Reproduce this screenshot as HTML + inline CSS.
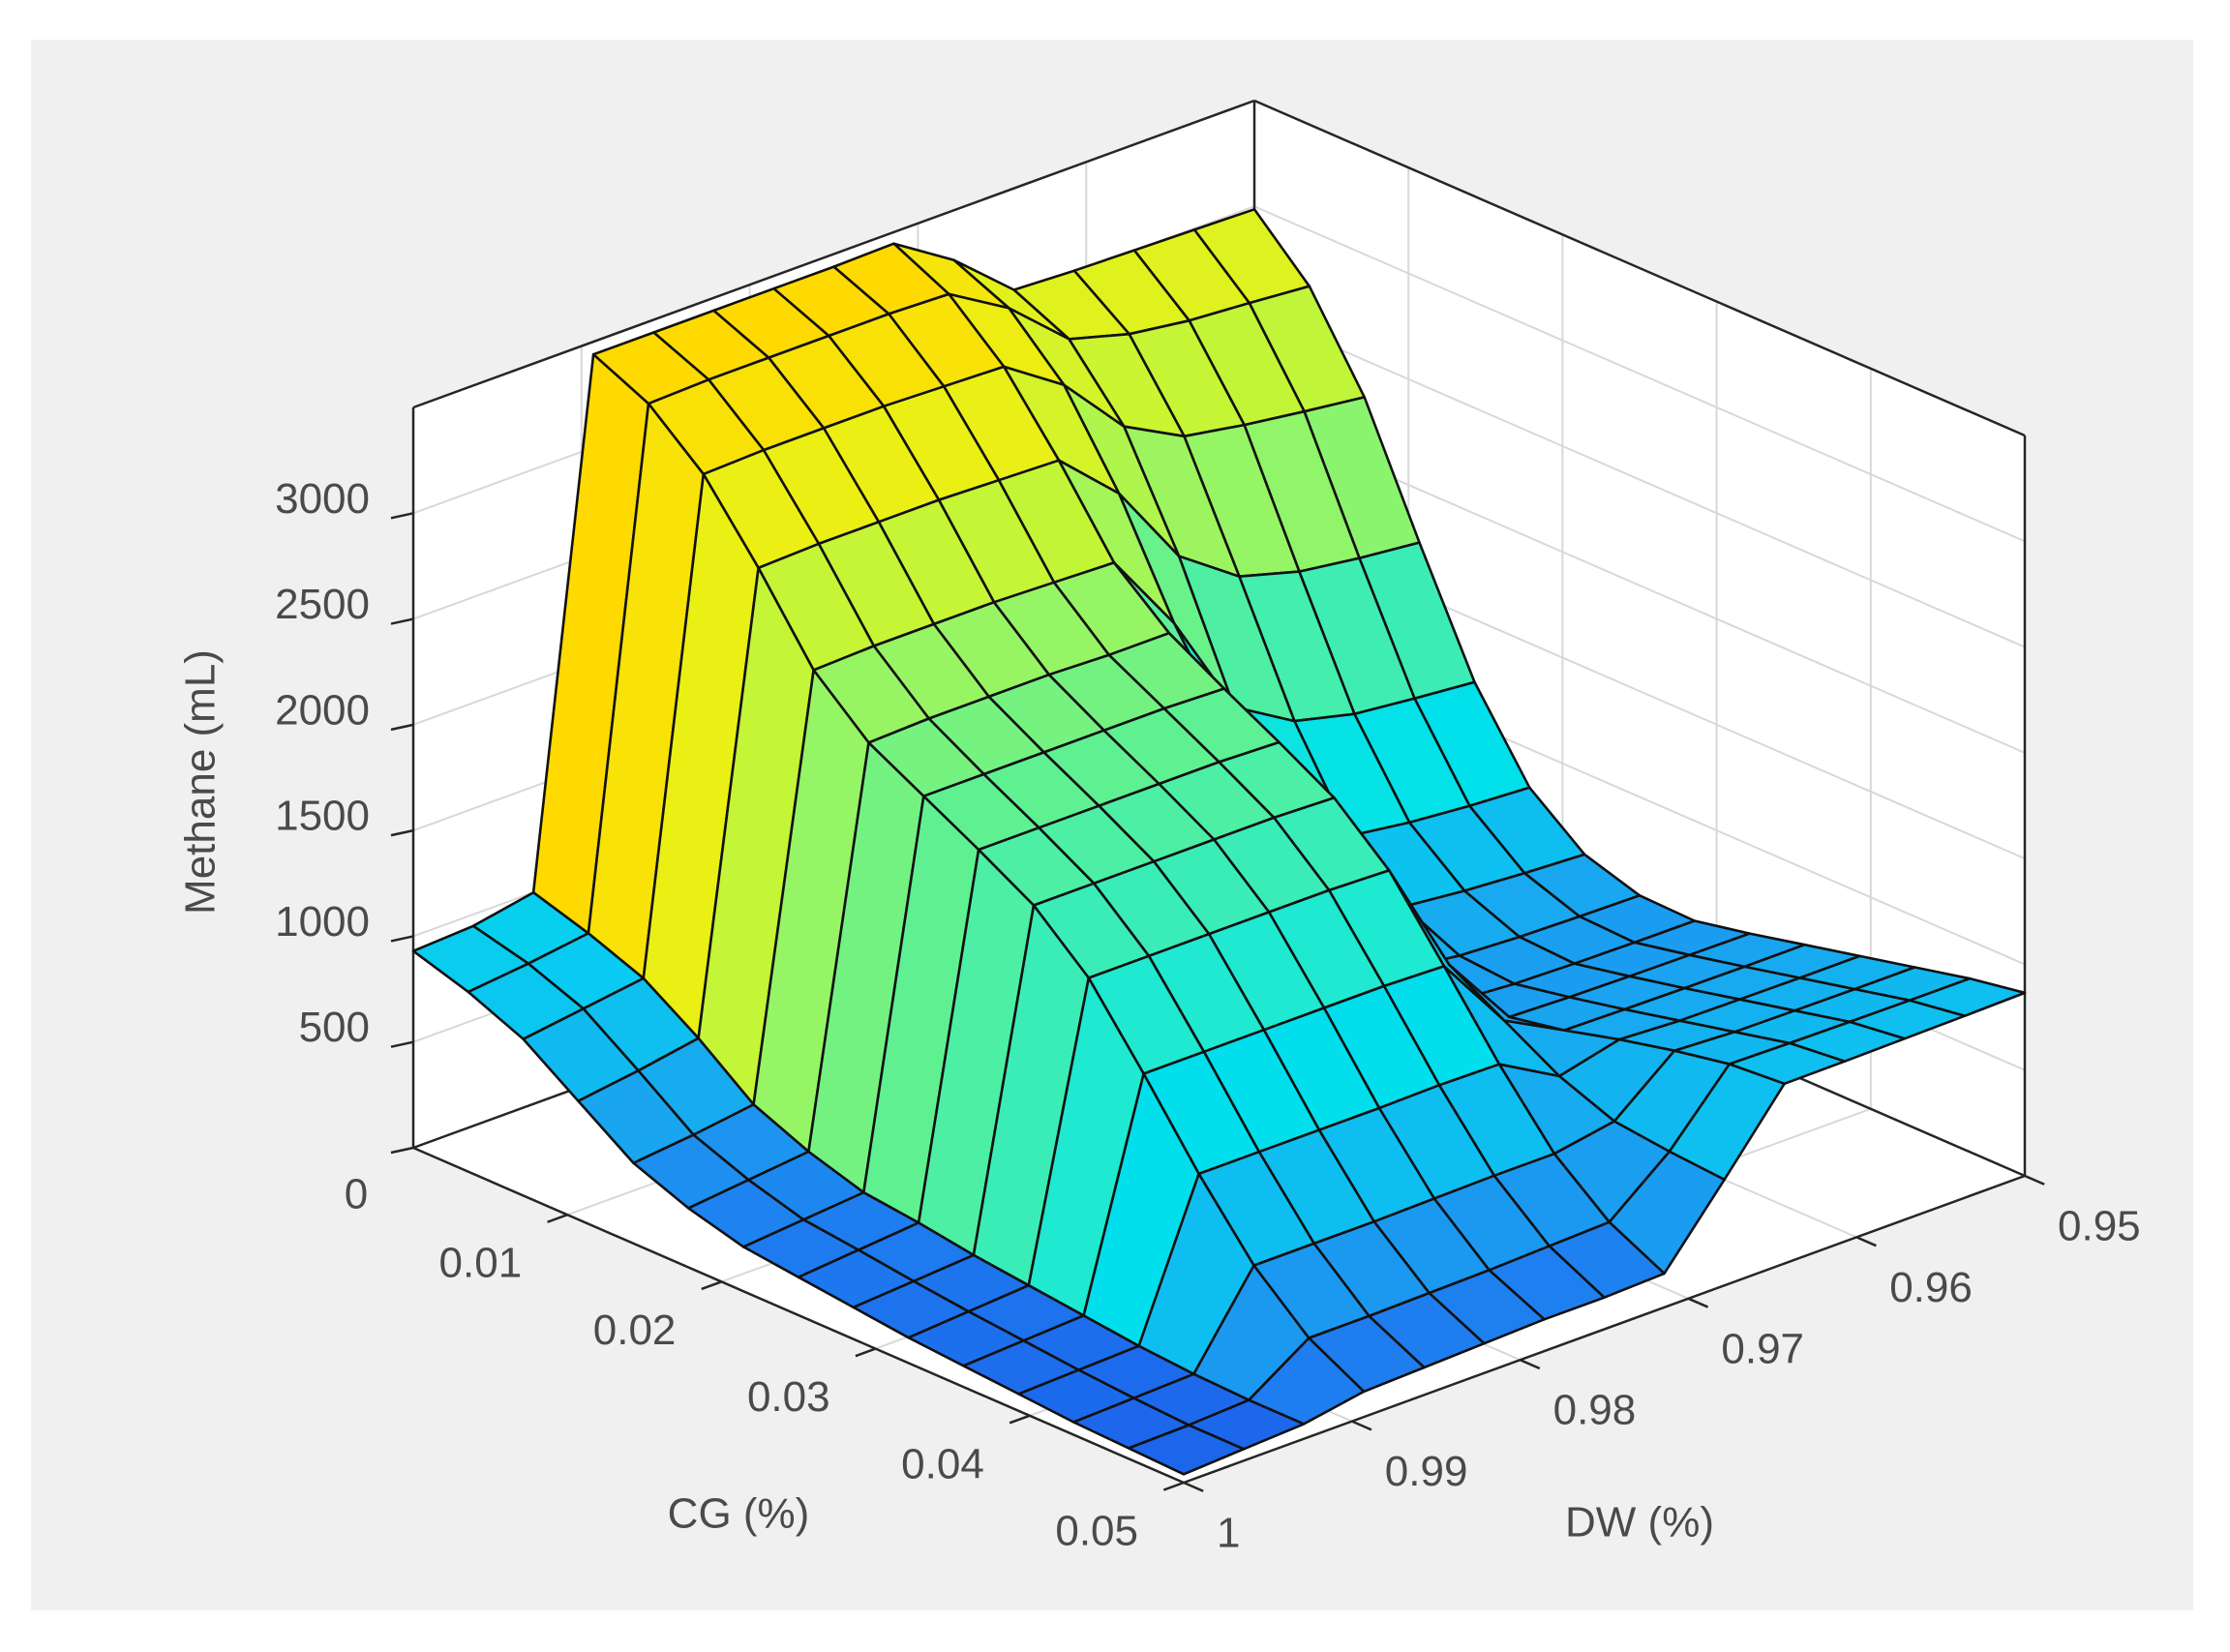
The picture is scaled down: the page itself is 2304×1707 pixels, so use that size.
<!DOCTYPE html>
<html><head><meta charset="utf-8"><style>
html,body{margin:0;padding:0;background:#fff;}
svg{display:block;}
text{font-family:"Liberation Sans",Arial,sans-serif;fill:#4a4a4a;font-size:44px;}
</style></head><body>
<svg id="chart" width="2304" height="1707" viewBox="0 0 2304 1707" xmlns="http://www.w3.org/2000/svg">
<rect x="0" y="0" width="2304" height="1707" fill="#ffffff"/>
<rect x="32" y="41" width="2234" height="1623" fill="#f0f0f0"/>
<g id="axes"></g>
<g id="surf"></g>
<g id="labels"></g>
</svg>
<script>
// ---- data ----
const cgValues = [0,0.00357,0.00714,0.01071,0.01429,0.01786,0.02143,0.025,0.02857,0.03214,0.03571,0.03929,0.04286,0.04643,0.05];
const dwValues = [1,0.99643,0.99286,0.98929,0.98571,0.98214,0.97857,0.975,0.97143,0.96786,0.96429,0.96071,0.95714,0.95357,0.95];
// methane rows, one per DW value (dw=1 first), values along CG
const zDw100 = [930,850,740,560,380,280,210,180,150,120,100,80,60,50,40];
const zDw0996 = [945,880,780,600,410,310,235,205,170,140,115,90,70,55,55];
const zDw0993 = [1000,920,820,650,450,340,260,230,190,160,130,100,80,70,70];
const zDw0989 = [3440,3320,3100,2770,2400,2170,2030,1890,1740,1510,1170,810,490,260,120];
const zDw0986 = [3440,3330,3110,2780,2410,2180,2030,1890,1740,1510,1170,810,490,260,130];
const zDw0982 = [3440,3330,3110,2780,2410,2180,2030,1890,1740,1510,1170,810,490,265,140];
const zDw0979 = [3440,3330,3110,2780,2410,2180,2030,1890,1740,1510,1170,810,495,270,150];
const zDw0975 = [3440,3330,3100,2770,2400,2170,2030,1890,1740,1510,1170,815,500,280,150];
const zDw0971 = [3446,3320,3090,2760,2390,2170,2020,1880,1730,1500,1160,810,500,290,160];
const zDw0968 = [3264,3150,2900,2500,2000,1600,1350,1200,1100,950,800,650,550,520,500];
const zDw0964 = [3020,2900,2600,2100,1500,1000,750,600,560,600,650,720,780,830,850];
const zDw0961 = [3007,2820,2450,1900,1330,900,680,560,540,590,645,705,765,825,852];
const zDw0957 = [3000,2780,2400,1820,1260,860,650,545,532,585,642,702,762,822,856];
const zDw0954 = [2993,2760,2360,1780,1230,835,630,538,528,582,640,700,760,820,860];
const zDw095 = [2986,2736,2324,1750,1203,818,615,534,527,580,640,700,760,820,865];
const zRows = [zDw100,zDw0996,zDw0993,zDw0989,zDw0986,zDw0982,zDw0979,zDw0975,zDw0971,zDw0968,zDw0964,zDw0961,zDw0957,zDw0954,zDw095];
const zTicks = [0,500,1000,1500,2000,2500,3000];
const zTickLabels = ["0","500","1000","1500","2000","2500","3000"];
const cgTicks = [0.01,0.02,0.03,0.04,0.05];
const cgTickLabels = ["0.01","0.02","0.03","0.04","0.05"];
const dwTicks = [0.95,0.96,0.97,0.98,0.99,1];
const dwTickLabels = ["0.95","0.96","0.97","0.98","0.99","1"];

// ---- projection ----
const L = [427,1186], F = [1223,1532], R = [2092,1215];
const B = [L[0]+R[0]-F[0], L[1]+R[1]-F[1]];
const ZMAX = 3500, ZPX = 765;
function proj(cg, dw, z){
  const s = cg/0.05, t = (1-dw)/0.05;
  return [L[0]+(F[0]-L[0])*s+(B[0]-L[0])*t, L[1]+(F[1]-L[1])*s+(B[1]-L[1])*t - z*ZPX/ZMAX];
}
const NS = "http://www.w3.org/2000/svg";
function mk(tag, attrs, parent){
  const e = document.createElementNS(NS, tag);
  for (const k in attrs) e.setAttribute(k, attrs[k]);
  parent.appendChild(e); return e;
}
const axes = document.getElementById('axes');
const surf = document.getElementById('surf');
const labels = document.getElementById('labels');
function pt(p){return p[0].toFixed(1)+','+p[1].toFixed(1);}

const Lt = proj(0,1,ZMAX), Bt = proj(0,0.95,ZMAX), Rt = proj(0.05,0.95,ZMAX);
let bg = mk('polygon',{points:[L,Lt,Bt,Rt,R,F].map(pt).join(' '),fill:'#ffffff'},axes);



function gline(a,b,name){
  const l = mk('line',{x1:a[0],y1:a[1],x2:b[0],y2:b[1],stroke:'#d8d8d8','stroke-width':2},axes);
  
  
}
zTicks.forEach(z=>{ if(z===0) return;
  gline(proj(0,1,z),proj(0,0.95,z),'z-gridline');
  gline(proj(0,0.95,z),proj(0.05,0.95,z),'z-gridline');
});
dwTicks.forEach(d=>{
  gline(proj(0,d,0),proj(0,d,ZMAX),'dw-gridline');
  gline(proj(0,d,0),proj(0.05,d,0),'dw-gridline');
});
cgTicks.forEach(c=>{
  gline(proj(c,0.95,0),proj(c,0.95,ZMAX),'cg-gridline');
  gline(proj(c,1,0),proj(c,0.95,0),'cg-gridline');
});
function bline(a,b,name){
  const l = mk('line',{x1:a[0],y1:a[1],x2:b[0],y2:b[1],stroke:'#262626','stroke-width':2.5},axes);
  
  
}
bline(L,Lt,'z-axis-line'); bline(Lt,Bt,'box-edge'); bline(Bt,Rt,'box-edge'); bline(Rt,R,'box-edge');
bline(B,Bt,'box-edge'); bline(L,F,'cg-axis-line'); bline(F,R,'dw-axis-line'); bline(L,B,'box-edge'); bline(B,R,'box-edge');

const cmapV = [40,300,600,900,1200,1600,2000,2400,2800,3100,3440];
const cmapC = [[28,100,235],[30,130,240],[25,165,240],[10,200,240],[0,225,235],[40,235,200],[90,240,150],[150,245,100],[200,245,50],[235,240,20],[255,218,0]];
function color(z){
  if (z<=cmapV[0]) return 'rgb('+cmapC[0].join(',')+')';
  for (let k=1;k<cmapV.length;k++){
    if (z<=cmapV[k]){
      const f=(z-cmapV[k-1])/(cmapV[k]-cmapV[k-1]);
      const c=cmapC[k-1].map((v,m)=>Math.round(v+(cmapC[k][m]-v)*f));
      return 'rgb('+c.join(',')+')';
    }
  }
  return 'rgb('+cmapC[cmapC.length-1].join(',')+')';
}
const faces=[];
for (let j=0;j<dwValues.length-1;j++){
  for (let i=0;i<cgValues.length-1;i++){
    const depth = proj(cgValues[i]+0.05/28, dwValues[j]-0.05/28, 0)[1];
    faces.push({i,j,depth});
  }
}
faces.sort((a,b)=>a.depth-b.depth);
faces.forEach(f=>{
  const i=f.i, j=f.j;
  const p1=proj(cgValues[i],dwValues[j],zRows[j][i]);
  const p2=proj(cgValues[i+1],dwValues[j],zRows[j][i+1]);
  const p3=proj(cgValues[i+1],dwValues[j+1],zRows[j+1][i+1]);
  const p4=proj(cgValues[i],dwValues[j+1],zRows[j+1][i]);
  const poly = mk('polygon',{points:[p1,p2,p3,p4].map(pt).join(' '),fill:color(zRows[j+1][i]),stroke:'#111','stroke-width':2.6,'stroke-linejoin':'round'},surf);
  
  
});

function txt(x,y,s,anchor,name){
  const t = mk('text',{x:x,y:y,'text-anchor':anchor,'dominant-baseline':'central'},labels);
  t.textContent=s;
  
  
  return t;
}
function tick(a,b,name){
  const l = mk('line',{x1:a[0],y1:a[1],x2:b[0],y2:b[1],stroke:'#262626','stroke-width':2.5},labels);
  
  
}
zTicks.forEach((z,k)=>{
  const p = proj(0,1,z);
  tick(p,[p[0]-23,p[1]+5],'z-tick');
  if (z===0) txt(368,1234,zTickLabels[k],'middle','z-tick-label');
  else txt(382,p[1]-15,zTickLabels[k],'end','z-tick-label');
});
const dwDir=[(F[0]-R[0]),(F[1]-R[1])], dwLen=Math.hypot(dwDir[0],dwDir[1]);
const cgDir=[(F[0]-L[0]),(F[1]-L[1])], cgLen=Math.hypot(cgDir[0],cgDir[1]);
cgTicks.forEach((c,k)=>{
  const p = proj(c,1,0);
  tick(p,[p[0]+dwDir[0]/dwLen*22,p[1]+dwDir[1]/dwLen*22],'cg-tick');
  txt(p[0]-47,p[1]+50,cgTickLabels[k],'end','cg-tick-label');
});
dwTicks.forEach((d,k)=>{
  const p = proj(0.05,d,0);
  tick(p,[p[0]+cgDir[0]/cgLen*22,p[1]+cgDir[1]/cgLen*22],'dw-tick');
  txt(p[0]+34,p[1]+52,dwTickLabels[k],'start','dw-tick-label');
});
txt(763,1564,'CG (%)','middle','x-axis-title');
txt(1694,1573,'DW (%)','middle','y-axis-title');
const zt = txt(0,0,'Methane (mL)','middle','z-axis-title');
zt.setAttribute('transform','translate(207,808) rotate(-90)');
</script>
</body></html>
